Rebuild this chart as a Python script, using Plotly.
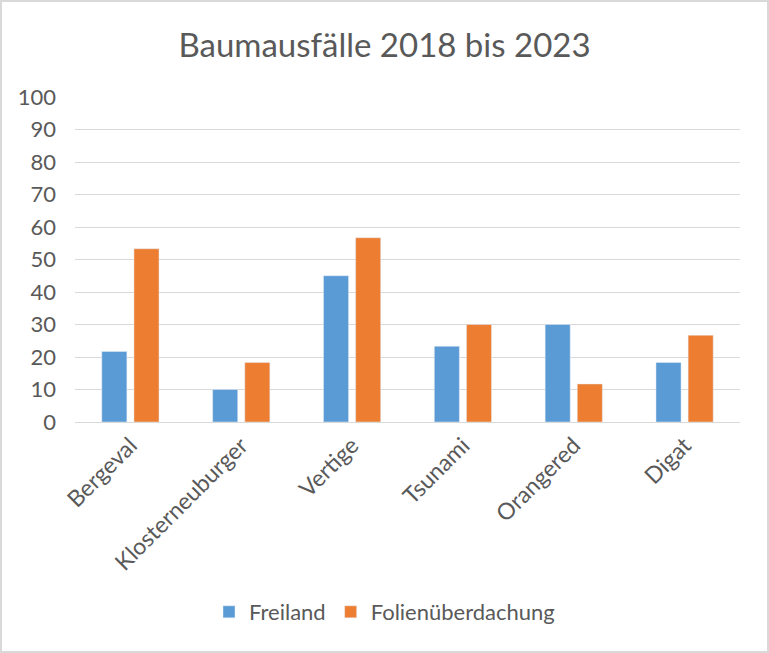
import plotly.graph_objects as go

categories = ["Bergeval", "Klosterneuburger", "Vertige", "Tsunami", "Orangered", "Digat"]
freiland = [21.7, 10.0, 45.0, 23.3, 30.0, 18.3]
folie = [53.3, 18.3, 56.7, 30.0, 11.7, 26.7]
y_ticks = [0, 10, 20, 30, 40, 50, 60, 70, 80, 90, 100]

W, H = 769, 653
L, R, T, B = 75, 29, 97, 231
pw, ph = W - L - R, H - T - B

font_family = "Lato, 'Open Sans', sans-serif"
text_color = "#595959"

fig = go.Figure()
fig.add_trace(go.Bar(x=categories, y=freiland, name="Freiland", marker_color="#5B9BD5"))
fig.add_trace(go.Bar(x=categories, y=folie, name="Folienüberdachung", marker_color="#ED7D31"))

fig.update_layout(
    width=W, height=H,
    margin=dict(l=L, r=R, t=T, b=B, autoexpand=False),
    paper_bgcolor="white", plot_bgcolor="white",
    barmode="group", bargap=0.42, bargroupgap=0.22,
    font=dict(family=font_family, color=text_color, size=22),
    title=dict(text="Baumausfälle 2018 bis 2023", x=0.5, xref="container", xanchor="center",
               y=1 - 45 / H, yref="container", yanchor="middle",
               font=dict(size=33, color=text_color, family=font_family)),
    legend=dict(orientation="h", x=0.5, xref="container", xanchor="center",
                y=(H - 612) / H, yref="container", yanchor="middle",
                font=dict(size=22, color=text_color), itemwidth=30, traceorder="normal"),
    xaxis=dict(tickangle=-45, showgrid=False, showline=True, linecolor="#D9D9D9", linewidth=1,
               ticks="", tickfont=dict(size=23, color=text_color)),
    yaxis=dict(range=[0, 100], tickvals=y_ticks, showgrid=True, gridcolor="#D9D9D9", gridwidth=1,
               zeroline=False, showline=False, ticks="", ticklabelstandoff=18,
               tickfont=dict(size=22, color=text_color)),
    shapes=[dict(type="rect", xref="paper", yref="paper",
                 x0=-(L - 1) / pw, x1=1 + (R - 1) / pw, y0=-(B - 1) / ph, y1=1 + (T - 1) / ph,
                 line=dict(color="#D9D9D9", width=2), fillcolor="rgba(0,0,0,0)", layer="below")],
)

fig.write_html("out.html", config={"displayModeBar": False},
               post_script="document.body.style.margin='0';document.body.style.overflow='hidden';")
